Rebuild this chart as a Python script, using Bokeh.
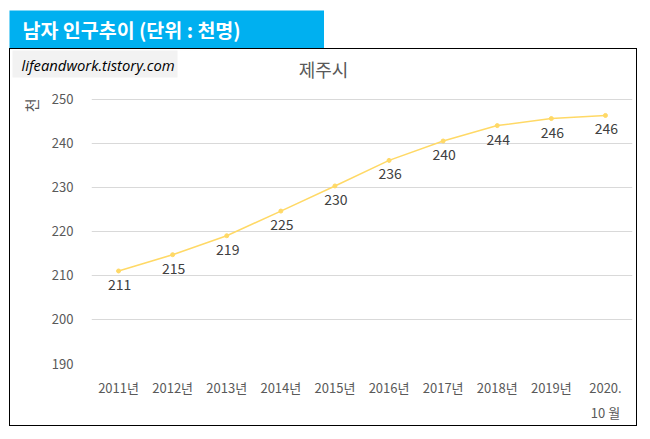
from bokeh.plotting import figure
from bokeh.layouts import column
from bokeh.models import (ColumnDataSource, LabelSet, Label, BoxAnnotation, Range1d,
                          FactorRange, FixedTicker, Title)
from bokeh.core.properties import value
from bokeh.embed import file_html
from bokeh.resources import INLINE

# ---- data ----
years = ["2011년", "2012년", "2013년", "2014년", "2015년", "2016년", "2017년", "2018년", "2019년", "2020.\n10 월"]
values = [211.0, 214.7, 219.0, 224.6, 230.3, 236.1, 240.5, 244.0, 245.6, 246.3]
y_ticks = [190, 200, 210, 220, 230, 240, 250]
header_text = "남자 인구추이 (단위 : 천명)"
chart_title = "제주시"
watermark = "lifeandwork.tistory.com"
y_unit = "천"

labels = [str(int(round(v))) for v in values]
src = ColumnDataSource(dict(x=years, y=values, lab=labels))

FONT = "Noto Sans CJK KR"
BODY_W = 626


def bare(fig):
    fig.outline_line_color = None
    fig.min_border_left = fig.min_border_right = 0
    fig.min_border_top = fig.min_border_bottom = 0
    fig.grid.visible = False
    return fig


# ---- header (blue box) ----
head = bare(figure(width=315, height=38, output_backend="svg", toolbar_location=None,
                   x_axis_type=None, y_axis_type=None,
                   x_range=Range1d(0, 1), y_range=Range1d(0, 1)))
head.background_fill_color = "#00B0F0"
head.border_fill_color = "#00B0F0"
head.add_layout(Label(x=13, y=19, x_units="canvas", y_units="canvas", text=header_text,
                      text_font=FONT, text_font_size="19.5px", text_font_style="bold",
                      text_color="white", text_baseline="middle", text_align="left"))
head.margin = (10, 0, 0, 9)

# ---- top strip inside the bordered box (watermark + chart title) ----
top = bare(figure(width=BODY_W, height=40, output_backend="svg", toolbar_location=None,
                  x_axis_type=None, y_axis_type=None,
                  x_range=Range1d(0, 1), y_range=Range1d(0, 1)))
top.add_layout(BoxAnnotation(left=2, right=167, top=1, bottom=28,
                             left_units="canvas", right_units="canvas",
                             top_units="canvas", bottom_units="canvas",
                             fill_color="#F2F2F2", fill_alpha=1, line_color=None))
top.add_layout(Label(x=11, y=15, x_units="canvas", y_units="canvas", text=watermark,
                     text_font="Open Sans", text_font_size="14.8px", text_font_style="italic",
                     text_color="#000000", text_baseline="middle", text_align="left"))
top.add_layout(Label(x=313, y=19, x_units="canvas", y_units="canvas", text=chart_title,
                     text_font=FONT, text_font_size="18px",
                     text_color="#595959", text_baseline="middle", text_align="center"))

# ---- main chart ----
p = figure(width=BODY_W, height=336, output_backend="svg", toolbar_location=None,
           x_range=FactorRange(factors=years, range_padding=0),
           y_range=Range1d(190, 250.15),
           min_border_left=81, min_border_right=4, min_border_top=9, min_border_bottom=60)
p.outline_line_color = None

p.xgrid.grid_line_color = None
p.ygrid.grid_line_color = "#D9D9D9"
p.ygrid.grid_line_width = 1

p.yaxis.ticker = FixedTicker(ticks=y_ticks)
for ax in (p.xaxis[0], p.yaxis[0]):
    ax.axis_line_color = None
    ax.major_tick_line_color = None
    ax.minor_tick_line_color = None
    ax.major_tick_out = 0
    ax.major_tick_in = 0
    ax.minor_tick_out = 0
    ax.major_label_text_font = FONT
    ax.major_label_text_font_size = "13px"
    ax.major_label_text_color = "#595959"
p.yaxis.major_label_standoff = 18
p.xaxis.major_label_standoff = 14
p.xaxis.major_label_text_line_height = 1.35

p.add_layout(Title(text=y_unit, align="right", text_font=FONT, text_font_size="15px",
                   text_font_style="normal", text_color="#595959", standoff=14), "left")

p.line("x", "y", source=src, line_color="#FFD966", line_width=1.5)
p.scatter("x", "y", source=src, size=4, fill_color="#FFD966", line_color="#FFD966")

p.add_layout(LabelSet(x="x", y="y", text="lab", source=src, y_offset=-8, x_offset=1,
                      text_align="center", text_baseline="top",
                      text_font=value(FONT), text_font_size=value("14px"), text_color="#404040"))

body = column(column(top), column(p), styles={"border": "1px solid black"})
body.margin = (0, 0, 0, 9)

layout = column(head, body)

open("out.html", "w").write(file_html(layout, INLINE))
